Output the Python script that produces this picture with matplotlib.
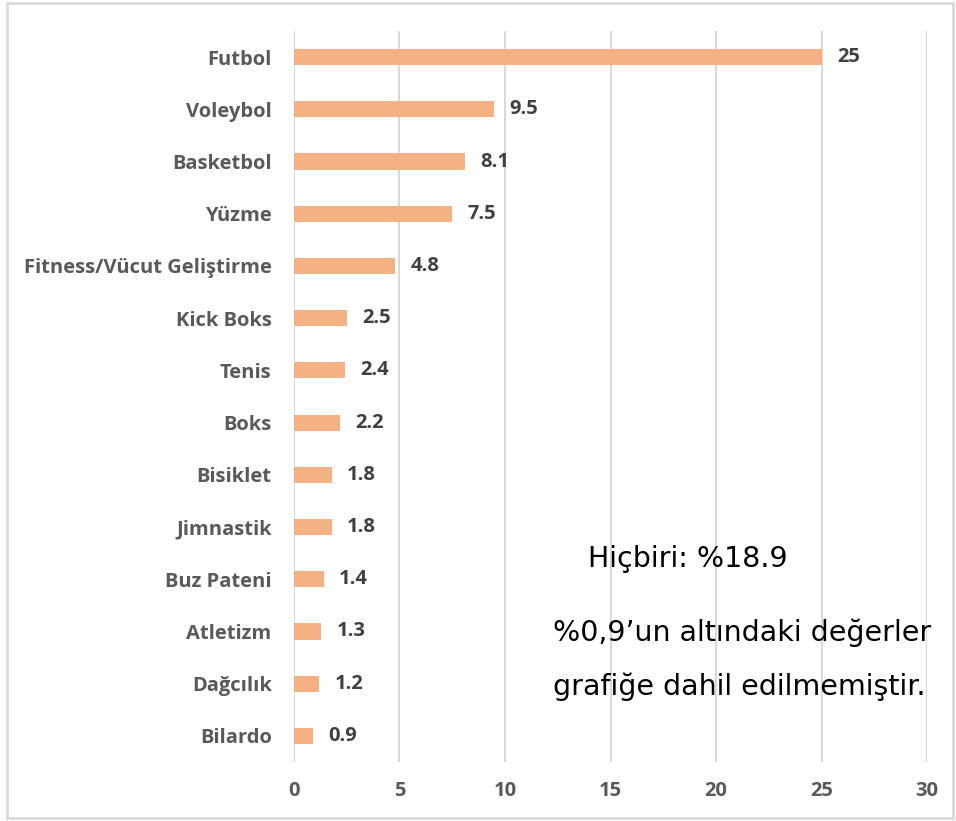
import matplotlib.pyplot as plt
from matplotlib.patches import Rectangle

sports = ["Futbol", "Voleybol", "Basketbol", "Yüzme", "Fitness/Vücut Geliştirme",
          "Kick Boks", "Tenis", "Boks", "Bisiklet", "Jimnastik", "Buz Pateni",
          "Atletizm", "Dağcılık", "Bilardo"]
values = [25, 9.5, 8.1, 7.5, 4.8, 2.5, 2.4, 2.2, 1.8, 1.8, 1.4, 1.3, 1.2, 0.9]
xticks = [0, 5, 10, 15, 20, 25, 30]

note1 = "Hiçbiri: %18.9"
note2 = "%0,9’un altındaki değerler"
note3 = "grafiğe dahil edilmemiştir."

bar_clr = "#F4B183"
grid_clr = "#D9D9D9"
lbl_clr = "#595959"
fnt = "Open Sans"

fig = plt.figure(figsize=(9.56, 8.21), dpi=100)
ax = fig.add_axes([0.3075, 0.0719, 0.6622, 0.8903])

pos = list(range(len(sports)))
ax.barh(pos, values, height=0.31, color=bar_clr, zorder=2)
ax.set_ylim(len(sports) - 0.5, -0.5)
ax.set_xlim(0, 30)

for p, v in zip(pos, values):
    ax.annotate(f"{v:g}", (v, p), xytext=(11, 0), textcoords="offset points",
                ha="left", va="center", fontsize=14.5, fontweight="bold",
                color="#404040", family=fnt)

ax.set_yticks(pos)
ax.set_yticklabels(sports, fontsize=14.5, fontweight="bold", color=lbl_clr, family=fnt)
ax.set_xticks(xticks)
ax.set_xticklabels([str(t) for t in xticks], fontsize=14.5, fontweight="bold",
                   color=lbl_clr, family=fnt)
ax.tick_params(axis="both", length=0)
ax.tick_params(axis="y", pad=16)
ax.tick_params(axis="x", pad=14)

ax.xaxis.grid(True, color=grid_clr, lw=1.5, zorder=0)
for s in ax.spines.values():
    s.set_visible(False)

fig.text(588 / 956, 1 - 559 / 821, note1, fontsize=20.5, color="black",
         ha="left", va="center", family="DejaVu Sans")
fig.text(553 / 956, 1 - 633 / 821, note2, fontsize=20.5, color="black",
         ha="left", va="center", family="DejaVu Sans")
fig.text(553 / 956, 1 - 687 / 821, note3, fontsize=20.5, color="black",
         ha="left", va="center", family="DejaVu Sans")

fig.patches.append(Rectangle((7 / 956, 3 / 821), 946 / 956, 815 / 821,
                             transform=fig.transFigure, fill=False,
                             edgecolor=grid_clr, lw=2))

plt.savefig("out.png", dpi=100)
